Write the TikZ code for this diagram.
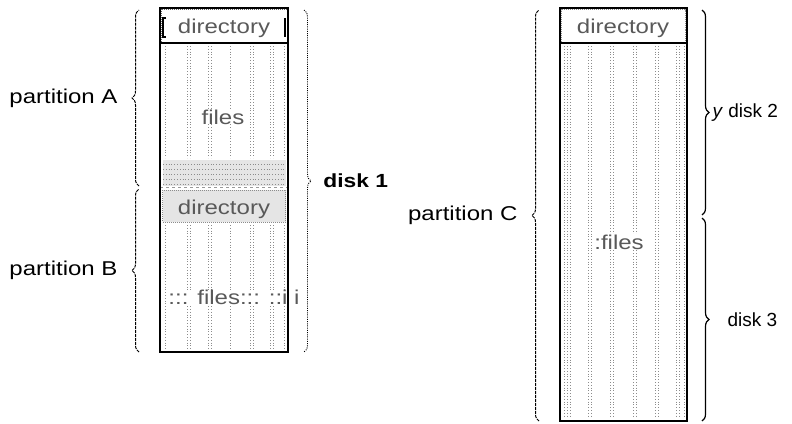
\documentclass[tikz,border=0pt]{standalone}
\usepackage{fontspec}
\setmainfont{Liberation Sans}
\newfontfamily\widefont[FakeStretch=1.2]{Liberation Sans}
\usetikzlibrary{decorations.pathreplacing}
\begin{document}
\begin{tikzpicture}[x=1pt,y=-1pt,
  boxline/.style={draw=black,line width=1.1pt},
  dotcol/.style={draw=black!45,line width=0.6pt,dash pattern=on 0.6pt off 2.2pt},
  bandfill/.style={fill=black!10},
  lbl/.style={font=\widefont\fontsize{20}{23}\selectfont,inner sep=1pt},
  inlbl/.style={font=\widefont\fontsize{20}{23}\selectfont,inner sep=1pt,text=black!65},
  disklbl/.style={font=\fontsize{19}{22}\selectfont,inner sep=1pt},
  pbrace/.style={decorate,decoration={brace,amplitude=7pt},line width=1pt,dash pattern=on 3pt off 1pt},
  dbrace/.style={decorate,decoration={brace,amplitude=7pt},line width=1.2pt},
  d1brace/.style={decorate,decoration={brace,amplitude=7pt},line width=0.9pt,dash pattern=on 1pt off 1.2pt}]
\useasboundingbox (0,0) rectangle (792,423);

% ---------- disk 1 ----------
\coordinate (d1tl) at (160,8);
\coordinate (d1br) at (288,352);
\fill[white] (d1tl) rectangle (d1br);
\foreach \x in {165,187,190,208,211,230,250,253,270,273,284}{
  \draw[dotcol] (\x,46) -- (\x,158);
  \draw[dotcol] (\x,225) -- (\x,350);
}
\fill[bandfill] (163,160) rectangle (286,186);
\foreach \y in {164,169,174,179,184}{\draw[dotcol] (163,\y) -- (286,\y);}
\draw[black!40,line width=0.6pt,dashed] (160,187) -- (288,187);
% directory A
\node[draw=black!60,line width=0.6pt,dash pattern=on 1pt off 1pt,minimum width=126pt,minimum height=34pt,inner sep=0pt,
      fill=white] (dirA) at (224,26) {};
\draw[line width=1.3pt] (166,18) -- (163,18) -- (163,37) -- (166,37);
\draw[line width=1.3pt] (285,18) -- (285,37);
\node[inlbl] (dirAt) at (224,28) {directory};
\draw[line width=1.2pt] (160,43) -- (288,43);
\node[inlbl,fill=white,inner sep=0pt] (filesA) at (223,117) {files};
% directory B
\node[draw=black!45,line width=0.6pt,dash pattern=on 1pt off 1pt,bandfill,minimum width=123pt,minimum height=32pt,inner sep=0pt] (dirB) at (224,206) {};
\node[inlbl] (dirBt) at (224,209) {directory};
\node[inlbl,fill=white,inner sep=0pt] (filesB) at (234,297) {::: files::: ::i i};
\draw[boxline] (d1tl) rectangle (d1br);

% ---------- disk 2/3 ----------
\coordinate (d2tl) at (560,8);
\coordinate (d2br) at (687,421);
\fill[white] (d2tl) rectangle (d2br);
\foreach \x in {564,567,570,588,591,610,613,633,636,655,658,676,679,684}{
  \draw[dotcol] (\x,46) -- (\x,418);
}
\node[draw=black!45,line width=0.6pt,dash pattern=on 1pt off 1pt,minimum width=124pt,minimum height=33pt,inner sep=0pt,fill=white] (dirC) at (623.5,26) {};
\node[inlbl] (dirCt) at (623,28) {directory};
\draw[line width=1.4pt] (560,43) -- (687,43);
\node[inlbl,fill=white,inner sep=1pt] (filesC) at (619,242) {:files};
\draw[boxline] (d2tl) rectangle (d2br);

% ---------- braces and labels ----------
\coordinate (pAtop) at (139,10);
\coordinate (pAbot) at (139,186);
\coordinate (pBtop) at (139,189);
\coordinate (pBbot) at (139,352);
\draw[pbrace] (pAbot) -- (pAtop) node[midway,left=20pt,lbl] (labA) {partition A};
\draw[pbrace] (pBbot) -- (pBtop) node[midway,left=20pt,lbl] (labB) {partition B};

\coordinate (d1top) at (304,10);
\coordinate (d1bot) at (304,352);
\draw[d1brace] (d1top) -- (d1bot) node[midway,right=18pt,font=\widefont\bfseries\fontsize{19}{22}\selectfont,inner sep=1pt] (lab1) {disk 1};

\coordinate (pCtop) at (539,10);
\coordinate (pCbot) at (539,421);
\draw[pbrace] (pCbot) -- (pCtop) node[midway,left=20pt,lbl] (labC) {partition C};

\coordinate (d2top) at (702,10);
\coordinate (d2bot) at (702,215);
\coordinate (d3top) at (702,218);
\coordinate (d3bot) at (702,421);
\draw[dbrace] (d2top) -- (d2bot) node[midway,right=9pt,disklbl] (lab2) {\textit{y} disk 2};
\draw[dbrace] (d3top) -- (d3bot) node[midway,right=24pt,disklbl] (lab3) {disk 3};
\end{tikzpicture}
\end{document}
